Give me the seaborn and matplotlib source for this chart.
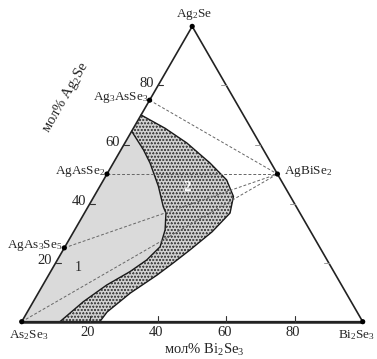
import numpy as np
import matplotlib
matplotlib.use("Agg")
import matplotlib.pyplot as plt
import seaborn as sns

# ternary data: b = мол% Bi2Se3, a = мол% Ag2Se
vertex_names = ["As$_2$Se$_3$", "Bi$_2$Se$_3$", "Ag$_2$Se"]
vertex_b = [0, 100, 0]
vertex_a = [0, 0, 100]

left_compounds = ["Ag$_3$AsSe$_3$", "AgAsSe$_2$", "AgAs$_3$Se$_5$"]
left_compound_a = [75, 50, 25]
right_compound = "AgBiSe$_2$"
right_compound_b, right_compound_a = 50, 50

# tie lines: from As2Se3 side points to AgBiSe2
tie_a_start = [75, 50, 25, 0]

# boundary of region 2 (outer) and region 1 (inner), top -> bottom
outer_b = [0, 9.3, 18.2, 28.4, 36.1, 40.9, 42.7, 40.6, 37.2, 34.5, 31.8, 27.0, 23.4, 22.9]
outer_a = [70, 65.5, 60.5, 53.7, 48.0, 42.4, 36.8, 30.4, 24.3, 19.9, 15.8, 9.7, 3.3, 0]
inner_b = [0, 6.6, 10.8, 17.2, 22.0, 23.9, 26.5, 27.9, 26.2, 23.3, 18.7, 14.7, 11.2]
inner_a = [64.5, 58.2, 53.7, 45.8, 39.0, 36.8, 31.1, 25.4, 20.9, 17.0, 12.4, 6.8, 0]

ticks = [20, 40, 60, 80]
tick_labels = ["20", "40", "60", "80"]


def tern(b, a):
    b = np.asarray(b, float) / 100
    a = np.asarray(a, float) / 100
    return b + a / 2, a * np.sqrt(3) / 2


S = 341.0           # pixels per unit side
X0, Y0 = 21.7, 321.7  # pixel position of As2Se3


def px(x, y):
    return (x - X0) / S, (Y0 - y) / S


sns.set_style("white")
plt.rcParams["font.family"] = ["Liberation Serif", "DejaVu Serif"]
plt.rcParams["mathtext.fontset"] = "custom"
plt.rcParams["mathtext.rm"] = "Liberation Serif"
plt.rcParams["mathtext.it"] = "Liberation Serif"
plt.rcParams["hatch.linewidth"] = 0.4

fig = plt.figure(figsize=(3.77, 3.59), dpi=100)
ax = fig.add_axes([0, 0, 1, 1])
ax.set_xlim(px(0, 0)[0], px(377, 0)[0])
ax.set_ylim(px(0, 359)[1], px(0, 0)[1])
ax.axis("off")

# region 1 (light gray)
x1, y1 = tern([0] + inner_b + [0], [0] + inner_a + [0])
ax.fill(x1, y1, facecolor="#dadada", edgecolor="none", zorder=1)

# region 2 (hatched)
x2, y2 = tern(outer_b + inner_b[::-1], outer_a + inner_a[::-1])
ax.fill(x2, y2, facecolor="#d0d0d0", edgecolor="#4d4d4d", lw=0, hatch="ooooo", zorder=1)

# boundary curves
xo, yo = tern(outer_b, outer_a)
xi, yi = tern(inner_b, inner_a)
sns.lineplot(x=xo, y=yo, sort=False, estimator=None, color="#1a1a1a", lw=1.0, ax=ax, zorder=3)
sns.lineplot(x=xi, y=yi, sort=False, estimator=None, color="#1a1a1a", lw=1.0, ax=ax, zorder=3)

# tie lines
xe, ye = tern(right_compound_b, right_compound_a)
for a0 in tie_a_start:
    xs, ys = tern(0, a0)
    ax.plot([xs, xe], [ys, ye], ls=(0, (3, 2)), color="#666666", lw=0.7, zorder=4)

# triangle
xt, yt = tern(vertex_b + [vertex_b[0]], vertex_a + [vertex_a[0]])
ax.plot(xt, yt, color="#222222", lw=1.2, zorder=5, solid_joinstyle="miter")
xb, yb = tern([0, 100], [0, 0])
ax.plot(xb, yb, color="#222222", lw=1.8, zorder=5)

# ticks
t = 5 / S
for v, lab in zip(ticks, tick_labels):
    # bottom axis
    x, y = tern(v, 0)
    ax.plot([x, x], [y, y + 1.2 * t], color="#333333", lw=0.8, zorder=5)
    ax.text(x - 2 / S, px(0, 333)[1], lab, ha="center", va="center", fontsize=10.5)
    # left axis
    x, y = tern(0, v)
    ax.plot([x, x + t], [y, y], color="#333333", lw=0.8, zorder=5)
    ax.text(x - 4 / S, y + 2 / S, lab, ha="right", va="center", fontsize=10.5)
    # right axis
    x, y = tern(100 - v, v)
    ax.plot([x - t, x], [y, y], color="#999999", lw=0.7, zorder=5)

# points
pb = vertex_b + [0] * len(left_compound_a) + [right_compound_b]
pa = vertex_a + left_compound_a + [right_compound_a]
xp, yp = tern(pb, pa)
sns.scatterplot(x=xp, y=yp, color="black", s=14, edgecolor="none", ax=ax, zorder=6)

# labels
ax.text(*px(194, 15), vertex_names[2], ha="center", va="center", fontsize=9.5)
ax.text(*px(29, 335), vertex_names[0], ha="center", va="center", fontsize=9.5)
ax.text(*px(357, 335), vertex_names[1], ha="center", va="center", fontsize=9.5)
label_pos = [(149, 98), (105, 172), (63, 246)]
for name, (lx, ly) in zip(left_compounds, label_pos):
    ax.text(*px(lx, ly), name, ha="right", va="center", fontsize=9.5)
ax.text(*px(284, 172), right_compound, ha="left", va="center", fontsize=9.5)

ax.text(*px(204, 350), "мол% Bi$_2$Se$_3$", ha="center", va="center", fontsize=10.5)
ax.text(*px(65, 97), "мол% Ag$_2$Se", ha="center", va="center", fontsize=10.5,
        rotation=60, rotation_mode="anchor")

xl, yl = tern(7.2, 18.5)
ax.text(xl, yl, "1", ha="center", va="center", fontsize=10)
xl, yl = tern(25.8, 45.3)
ax.text(xl, yl, "2", ha="center", va="center", fontsize=10.5, color="white",
        fontweight="bold")

fig.savefig("out.png", dpi=100)
